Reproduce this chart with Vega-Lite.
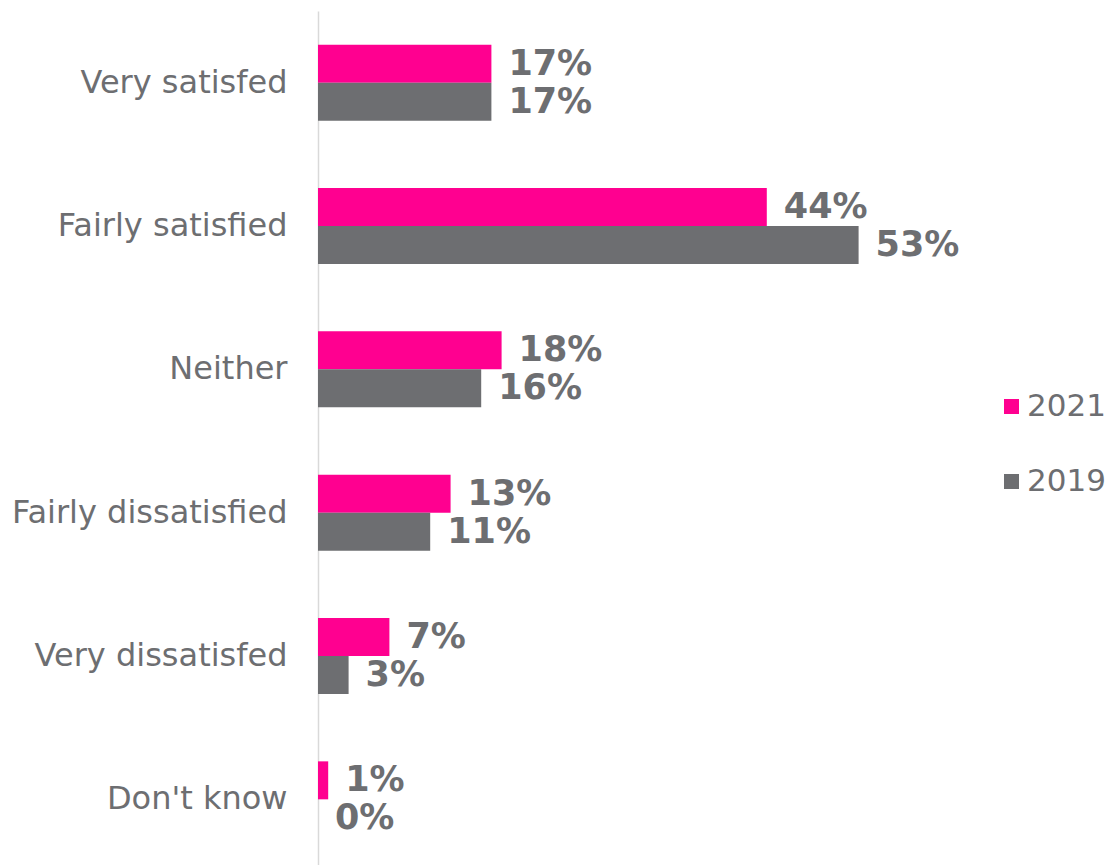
{
  "$schema": "https://vega.github.io/schema/vega-lite/v6.json",
  "width": 612,
  "height": 860,
  "autosize": {"type": "none"},
  "padding": {"left": 318, "top": 11, "right": 182, "bottom": 0},
  "background": "white",
  "config": {"view": {"stroke": null}, "font": "DejaVu Sans"},
  "data": {
    "values": [
      {"response": "Very satisfed", "year": "2021", "pct": 0.17},
      {"response": "Very satisfed", "year": "2019", "pct": 0.17},
      {"response": "Fairly satisfied", "year": "2021", "pct": 0.44},
      {"response": "Fairly satisfied", "year": "2019", "pct": 0.53},
      {"response": "Neither", "year": "2021", "pct": 0.18},
      {"response": "Neither", "year": "2019", "pct": 0.16},
      {"response": "Fairly dissatisfied", "year": "2021", "pct": 0.13},
      {"response": "Fairly dissatisfied", "year": "2019", "pct": 0.11},
      {"response": "Very dissatisfed", "year": "2021", "pct": 0.07},
      {"response": "Very dissatisfed", "year": "2019", "pct": 0.03},
      {"response": "Don't know", "year": "2021", "pct": 0.01},
      {"response": "Don't know", "year": "2019", "pct": 0.0}
    ]
  },
  "encoding": {
    "y": {
      "field": "response",
      "type": "nominal",
      "sort": ["Very satisfed", "Fairly satisfied", "Neither", "Fairly dissatisfied", "Very dissatisfed", "Don't know"],
      "scale": {"paddingInner": 0.47, "paddingOuter": 0.235},
      "axis": {
        "title": null,
        "domain": true,
        "domainColor": "#d9d9d9",
        "domainWidth": 1.5,
        "ticks": false,
        "grid": false,
        "labelFontSize": 32,
        "labelColor": "#6d6e71",
        "labelPadding": 31,
        "labelLimit": 400
      }
    },
    "yOffset": {"field": "year", "type": "nominal", "sort": ["2021", "2019"]},
    "x": {"field": "pct", "type": "quantitative", "scale": {"domain": [0, 0.6]}, "axis": null}
  },
  "layer": [
    {
      "mark": {"type": "bar"},
      "encoding": {
        "color": {
          "field": "year",
          "type": "nominal",
          "sort": ["2021", "2019"],
          "scale": {"domain": ["2021", "2019"], "range": ["#ff0090", "#6d6e71"]},
          "legend": {
            "title": null,
            "orient": "none",
            "legendX": 678,
            "legendY": 380,
            "symbolType": "square",
            "symbolSize": 225,
            "symbolStrokeWidth": 0,
            "labelFontSize": 31,
            "labelColor": "#6d6e71",
            "labelOffset": 0,
            "labelLimit": 200,
            "rowPadding": 43
          }
        }
      }
    },
    {
      "mark": {"type": "text", "align": "left", "baseline": "middle", "dx": 17, "fontWeight": "bold", "fontSize": 35, "color": "#6d6e71"},
      "encoding": {"text": {"field": "pct", "type": "quantitative", "format": ".0%"}}
    }
  ]
}
